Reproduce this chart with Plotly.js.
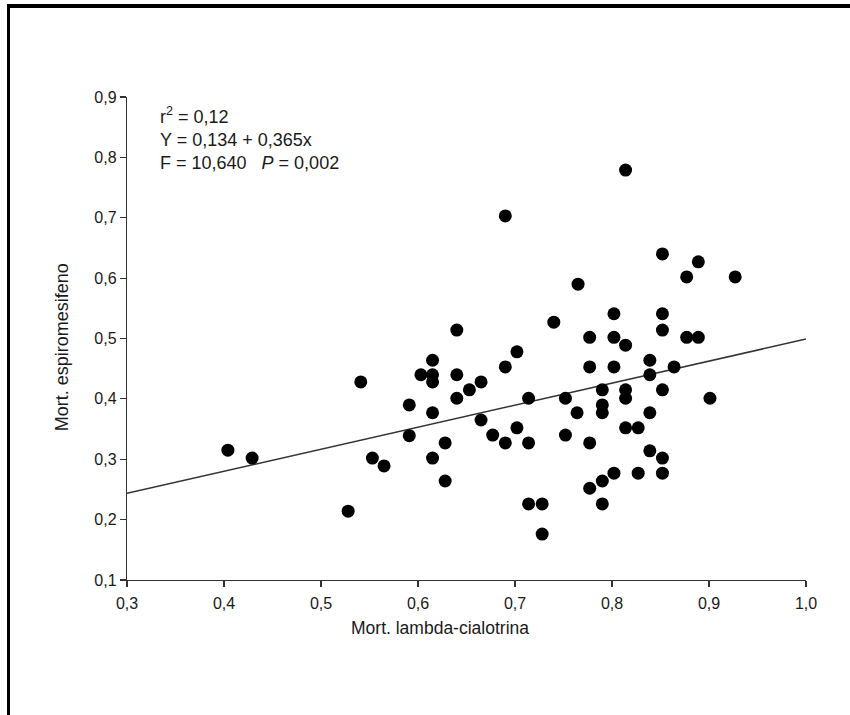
<!DOCTYPE html>
<html>
<head>
<meta charset="utf-8">
<script src="https://cdn.plot.ly/plotly-3.0.1.min.js"></script>
<style>
  html, body { margin: 0; padding: 0; background: #fff; }
  #wrap { position: relative; width: 850px; height: 715px; overflow: hidden; }
  #chart { position: absolute; left: 0; top: 0; width: 850px; height: 715px; }
  #frameTop { position: absolute; left: 7px; top: 4px; width: 843px; height: 4px; background: #000; }
  #frameLeft { position: absolute; left: 7px; top: 4px; width: 3px; height: 711px; background: #000; }
</style>
</head>
<body>
<div id="wrap">
  <div id="chart"></div>
  <div id="frameTop"></div>
  <div id="frameLeft"></div>
</div>
<script>
// Mortality to lambda-cialotrina (x) vs mortality to espiromesifeno (y)
const mortLambda = [
  0.404, 0.429, 0.528, 0.541, 0.553, 0.565, 0.591, 0.591, 0.603, 0.615,
  0.615, 0.615, 0.615, 0.615, 0.628, 0.628, 0.640, 0.640, 0.640, 0.653,
  0.665, 0.665, 0.677, 0.690, 0.690, 0.690, 0.702, 0.702, 0.714, 0.714,
  0.714, 0.728, 0.728, 0.740, 0.752, 0.752, 0.765, 0.764, 0.777, 0.777,
  0.777, 0.777, 0.790, 0.790, 0.790, 0.790, 0.790, 0.802, 0.802, 0.802,
  0.802, 0.814, 0.814, 0.814, 0.814, 0.814, 0.827, 0.827, 0.839, 0.839,
  0.839, 0.839, 0.852, 0.852, 0.852, 0.852, 0.852, 0.852, 0.864, 0.877,
  0.877, 0.889, 0.889, 0.901, 0.927
];
const mortEspiro = [
  0.315, 0.302, 0.214, 0.428, 0.302, 0.289, 0.390, 0.339, 0.440, 0.464,
  0.440, 0.428, 0.377, 0.302, 0.327, 0.264, 0.514, 0.440, 0.401, 0.415,
  0.428, 0.365, 0.340, 0.703, 0.453, 0.327, 0.478, 0.352, 0.401, 0.327,
  0.226, 0.226, 0.176, 0.527, 0.401, 0.340, 0.590, 0.377, 0.502, 0.453,
  0.327, 0.252, 0.415, 0.390, 0.377, 0.264, 0.226, 0.541, 0.502, 0.453,
  0.277, 0.779, 0.489, 0.415, 0.401, 0.352, 0.352, 0.277, 0.464, 0.440,
  0.377, 0.314, 0.640, 0.541, 0.514, 0.415, 0.302, 0.277, 0.453, 0.602,
  0.502, 0.627, 0.502, 0.401, 0.602
];
// Regression reported on the chart: Y = 0,134 + 0,365x
const intercept = 0.134;
const slope = 0.365;
const lineX = [0.3, 1.0];
const lineY = lineX.map(v => intercept + slope * v);

const xTicks = [0.3, 0.4, 0.5, 0.6, 0.7, 0.8, 0.9, 1.0];
const yTicks = [0.1, 0.2, 0.3, 0.4, 0.5, 0.6, 0.7, 0.8, 0.9];

const xTitle = 'Mort. lambda-cialotrina';
const yTitle = 'Mort. espiromesifeno';
const statsText = 'r<sup>2</sup> = 0,12<br>Y = 0,134 + 0,365x<br>F = 10,640   <i>P</i> = 0,002';

const fontFam = '"Liberation Sans", Arial, sans-serif';
const txtColor = '#1a1a1a';

const traces = [
  {
    x: lineX, y: lineY, type: 'scatter', mode: 'lines',
    line: { color: '#333333', width: 1.5 }, hoverinfo: 'skip', showlegend: false
  },
  {
    x: mortLambda, y: mortEspiro, type: 'scatter', mode: 'markers',
    marker: { color: '#000000', size: 13, line: { width: 0 } }, showlegend: false
  }
];

const layout = {
  width: 850, height: 715,
  margin: { l: 127, r: 44, t: 97, b: 135, pad: 0 },
  paper_bgcolor: '#ffffff', plot_bgcolor: '#ffffff',
  separators: ', ',
  font: { family: fontFam, size: 16, color: txtColor },
  showlegend: false,
  xaxis: {
    range: [0.3, 1.0], tickvals: xTicks, tickformat: '.1f',
    showgrid: false, zeroline: false, showline: true, linecolor: '#333', linewidth: 1.2,
    ticks: 'outside', ticklen: 6, tickcolor: '#333', tickwidth: 1.2,
    ticklabelstandoff: 3,
    tickfont: { size: 16, family: fontFam, color: txtColor },
    automargin: false
  },
  yaxis: {
    range: [0.1, 0.9], tickvals: yTicks, tickformat: '.1f',
    showgrid: false, zeroline: false, showline: true, linecolor: '#333', linewidth: 1.2,
    ticks: 'outside', ticklen: 6, tickcolor: '#333', tickwidth: 1.2,
    tickfont: { size: 16, family: fontFam, color: txtColor },
    automargin: false
  },
  annotations: [
    {
      xref: 'paper', yref: 'paper', x: 0.045, y: 0.99, xanchor: 'left', yanchor: 'top',
      align: 'left', showarrow: false, text: statsText,
      font: { size: 18, family: fontFam, color: txtColor }
    },
    {
      xref: 'paper', yref: 'paper', x: 0.461, y: -0.0994, xanchor: 'center', yanchor: 'middle',
      showarrow: false, text: xTitle,
      font: { size: 17.5, family: fontFam, color: txtColor }
    },
    {
      xref: 'paper', yref: 'paper', x: -0.0957, y: 0.482, xanchor: 'center', yanchor: 'middle',
      showarrow: false, text: yTitle, textangle: -90,
      font: { size: 18, family: fontFam, color: txtColor }
    }
  ]
};

Plotly.newPlot('chart', traces, layout, { displayModeBar: false, staticPlot: true });
</script>
</body>
</html>
